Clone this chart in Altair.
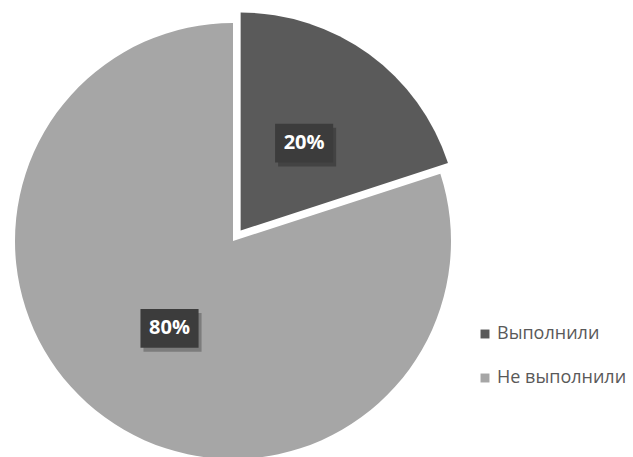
import math
import altair as alt
import pandas as pd

categories = ["Выполнили", "Не выполнили"]
shares = [20, 80]
label_texts = ["20%", "80%"]
colors = ["#5a5a5a", "#a6a6a6"]

df = pd.DataFrame({"cat": categories, "share": shares, "label": label_texts,
                   "order": list(range(len(categories)))})

CX, CY, R = 233, 241, 218
EXPLODE = 13
LABEL_R = 108
TOTAL = sum(shares)

base = alt.Chart(df).transform_window(
    cum="sum(share)", sort=[alt.SortField("order")]
).transform_calculate(
    start="datum.cum - datum.share",
    mid=f"(datum.cum - datum.share / 2) / {TOTAL} * 2 * PI",
    ex=f"datum.cat == '{categories[0]}' ? {EXPLODE} : 0",
).transform_calculate(
    cx=f"{CX} + datum.ex * sin(datum.mid)",
    cy=f"{CY} - datum.ex * cos(datum.mid)",
).transform_calculate(
    lx=f"datum.cx + {LABEL_R} * sin(datum.mid)",
    ly=f"datum.cy - {LABEL_R} * cos(datum.mid)",
)

arcs = base.mark_arc(radius=R).encode(
    theta=alt.Theta("start:Q", scale=alt.Scale(domain=[0, TOTAL], range=[0, 2 * math.pi]), stack=None),
    theta2="cum:Q",
    x=alt.X("cx:Q", scale=None, axis=None),
    y=alt.Y("cy:Q", scale=None, axis=None),
    color=alt.Color(
        "cat:N",
        scale=alt.Scale(domain=categories, range=colors),
        legend=alt.Legend(
            title=None, orient="none", legendX=476, legendY=325,
            symbolType="square", symbolSize=80, symbolStrokeWidth=0,
            labelFont="Open Sans", labelFontSize=18, labelColor="#595959",
            labelOffset=3, rowPadding=26,
        ),
    ),
)

box_shape = "M-1.5,-1L1.5,-1L1.5,1L-1.5,1Z"
shadow = base.mark_point(shape=box_shape, size=1500, filled=True, color="#000000",
                         opacity=0.25, xOffset=3, yOffset=4).encode(
    x=alt.X("lx:Q", scale=None, axis=None), y=alt.Y("ly:Q", scale=None, axis=None))
boxes = base.mark_point(shape=box_shape, size=1500, filled=True, color="#3c3c3c",
                        opacity=1).encode(
    x=alt.X("lx:Q", scale=None, axis=None), y=alt.Y("ly:Q", scale=None, axis=None))
texts = base.mark_text(font="Open Sans", fontWeight="bold", fontSize=20, color="white",
                       baseline="middle", align="center").encode(
    x=alt.X("lx:Q", scale=None, axis=None), y=alt.Y("ly:Q", scale=None, axis=None),
    text="label:N")

chart = alt.layer(arcs, shadow, boxes, texts).properties(
    width=633, height=457, padding=0, autosize="none", background="white"
).configure_view(stroke=None)

chart.save("out.html", embed_options={"renderer": "svg", "actions": False})
